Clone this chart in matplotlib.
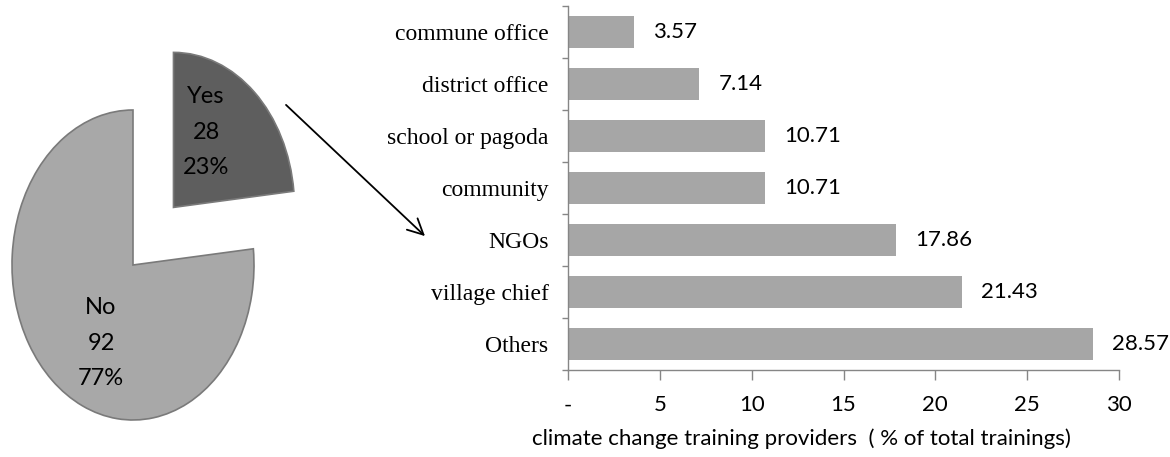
import matplotlib
matplotlib.use("Agg")
import numpy as np
import matplotlib.pyplot as plt

## data
pie_names = ["Yes", "No"]
pie_counts = [28, 92]

providers = ["commune office", "district office", "school or pagoda", "community",
             "NGOs", "village chief", "Others"]
shares = [3.57, 7.14, 10.71, 10.71, 17.86, 21.43, 28.57]

xticks = [0, 5, 10, 15, 20, 25, 30]
xtick_labels = ["-", "5", "10", "15", "20", "25", "30"]
xlabel = "climate change training providers  ( % of total trainings)"

W, H = 1170, 457
sans = ["Lato", "DejaVu Sans"]
serif = ["Liberation Serif", "DejaVu Serif"]
grey = "#868686"

fig = plt.figure(figsize=(W / 100, H / 100), dpi=100)


def px(x, y):
    # pixel position from the top-left corner -> figure fraction
    return x / W, 1 - y / H


## pie on the left, drawn squashed like the original
axp = fig.add_axes([0, 0, 460 / W, 1])
wedges, _ = axp.pie(pie_counts, startangle=90, counterclock=False,
                    explode=[0.5, 0], colors=["#5e5e5e", "#a8a8a8"],
                    wedgeprops=dict(edgecolor="#7a7a7a", linewidth=1.2))
axp.set_aspect("auto")
axp.set_xlim(-133 / 121, (460 - 133) / 121)
axp.set_ylim(-192 / 155, 265 / 155)
axp.axis("off")

total = sum(pie_counts)
pie_txt_pos = {"Yes": (206, 132), "No": (101, 343)}
for name, n in zip(pie_names, pie_counts):
    s = f"{name}\n{n}\n{round(100 * n / total)}%"
    fig.text(*px(*pie_txt_pos[name]), s, ha="center", va="center",
             family=sans, fontsize=17, linespacing=1.85, color="black")

## arrow from the Yes slice to the bar chart
fig.add_artist(matplotlib.patches.FancyArrowPatch(
    px(284, 103), px(427, 238), transform=fig.transFigure,
    arrowstyle="->", mutation_scale=28, lw=1.3, color="black"))

## bar chart on the right
ax = fig.add_axes([568 / W, (H - 370) / H, (1119 - 568) / W, 364 / H])
y = np.arange(len(providers))
bars = ax.barh(y, shares, height=0.6, color="#a6a6a6")
ax.bar_label(bars, labels=[f"{v:.2f}" for v in shares], padding=14,
             family=sans, fontsize=16)

ax.set_xlim(0, 30)
ax.set_ylim(len(providers) - 0.5, -0.5)
ax.set_xticks(xticks)
ax.set_xticklabels(xtick_labels, family=sans, fontsize=16)
ax.tick_params(axis="x", length=7.2, width=1, color=grey, pad=11)

ax.set_yticks(np.arange(-0.5, len(providers), 1))
ax.set_yticklabels([])
ax.tick_params(axis="y", which="major", length=4.5, width=1, color=grey)
ax.set_yticks(y, minor=True)
ax.set_yticklabels(providers, minor=True, family=serif, fontsize=17)
ax.tick_params(axis="y", which="minor", length=0, pad=14)

for side in ["top", "right"]:
    ax.spines[side].set_visible(False)
for side in ["left", "bottom"]:
    ax.spines[side].set_color(grey)
    ax.spines[side].set_linewidth(1)

fig.text(*px(801, 439), xlabel, ha="center", va="center", family=sans, fontsize=16)

fig.savefig("out.png", dpi=100)
